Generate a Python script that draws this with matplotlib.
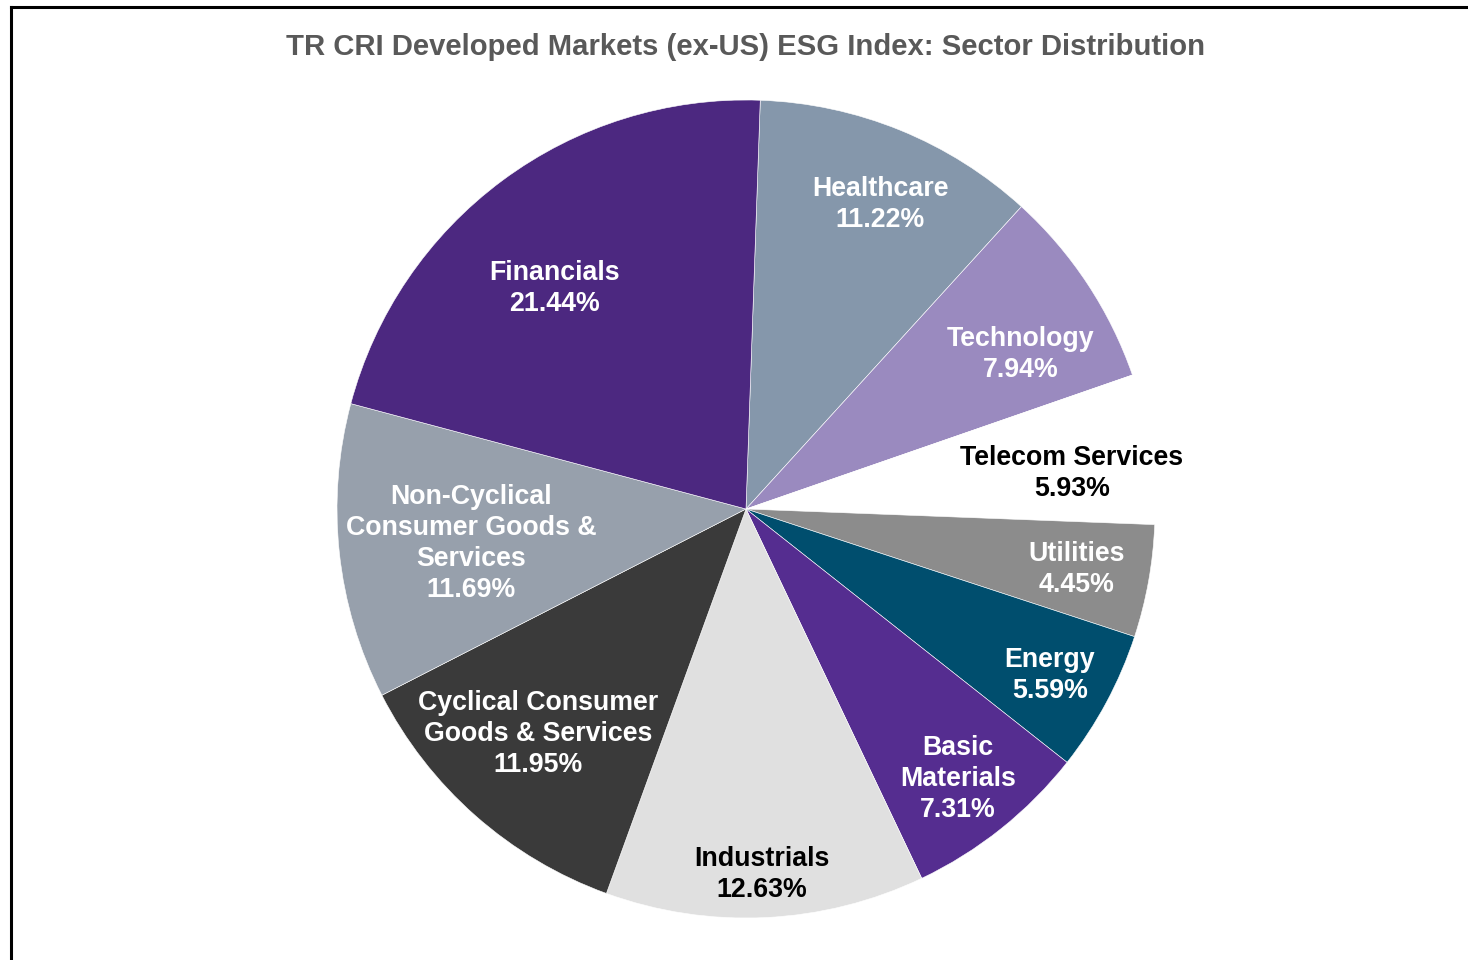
import matplotlib
matplotlib.use("Agg")
import matplotlib.pyplot as plt
from matplotlib.lines import Line2D

plt.rcParams['font.family'] = ['Liberation Sans', 'DejaVu Sans']

title = "TR CRI Developed Markets (ex-US) ESG Index: Sector Distribution"
sectors = ["Healthcare", "Technology", "Telecom Services", "Utilities", "Energy",
           "Basic Materials", "Industrials", "Cyclical Consumer Goods & Services",
           "Non-Cyclical Consumer Goods & Services", "Financials"]
label_text = ["Healthcare", "Technology", "Telecom Services", "Utilities", "Energy",
              "Basic\nMaterials", "Industrials", "Cyclical Consumer\nGoods & Services",
              "Non-Cyclical\nConsumer Goods &\nServices", "Financials"]
values = [11.22, 7.94, 5.93, 4.45, 5.59, 7.31, 12.63, 11.95, 11.69, 21.44]

colors = ["#8597AB", "#9A8ABF", "#FFFFFF", "#8C8C8C", "#004E6E",
          "#552D90", "#E0E0E0", "#3A3A3A", "#97A0AC", "#4C2880"]
text_colors = ["white", "white", "black", "white", "white",
               "white", "black", "white", "white", "white"]
# label centres in pie data units
label_pos = [(0.328, 0.745), (0.672, 0.378), (0.797, 0.087), (0.809, -0.148),
             (0.743, -0.407), (0.518, -0.659), (0.039, -0.894), (-0.509, -0.551),
             (-0.672, -0.084), (-0.467, 0.539)]

fig = plt.figure(figsize=(14.68, 9.6), dpi=100)
ax = fig.add_axes([337/1468, 42/960, 818/1468, 818/960])
ax.pie(values, colors=colors, startangle=88, counterclock=False,
       wedgeprops=dict(edgecolor='white', linewidth=0.4), radius=1)
ax.set_xlim(-1, 1)
ax.set_ylim(-1, 1)
ax.set_aspect('equal')
ax.axis('off')

for txt, v, (x, y), c in zip(label_text, values, label_pos, text_colors):
    ax.text(x, y, f"{txt}\n{v:.2f}%", ha='center', va='center', color=c,
            fontsize=19.3, fontweight='bold', linespacing=1.25)

fig.text(746/1468, 1 - 47/960, title, ha='center', va='center', color='#595959',
         fontsize=21.1, fontweight='bold')

fig.add_artist(Line2D([10.5/1468, 10.5/1468], [0, 1 - 6.5/960], color='black', lw=2.2,
                      transform=fig.transFigure, solid_capstyle='projecting'))
fig.add_artist(Line2D([10.5/1468, 1], [1 - 6.5/960, 1 - 6.5/960], color='black', lw=2.2,
                      transform=fig.transFigure, solid_capstyle='projecting'))

fig.savefig("out.png", dpi=100, facecolor='white')
